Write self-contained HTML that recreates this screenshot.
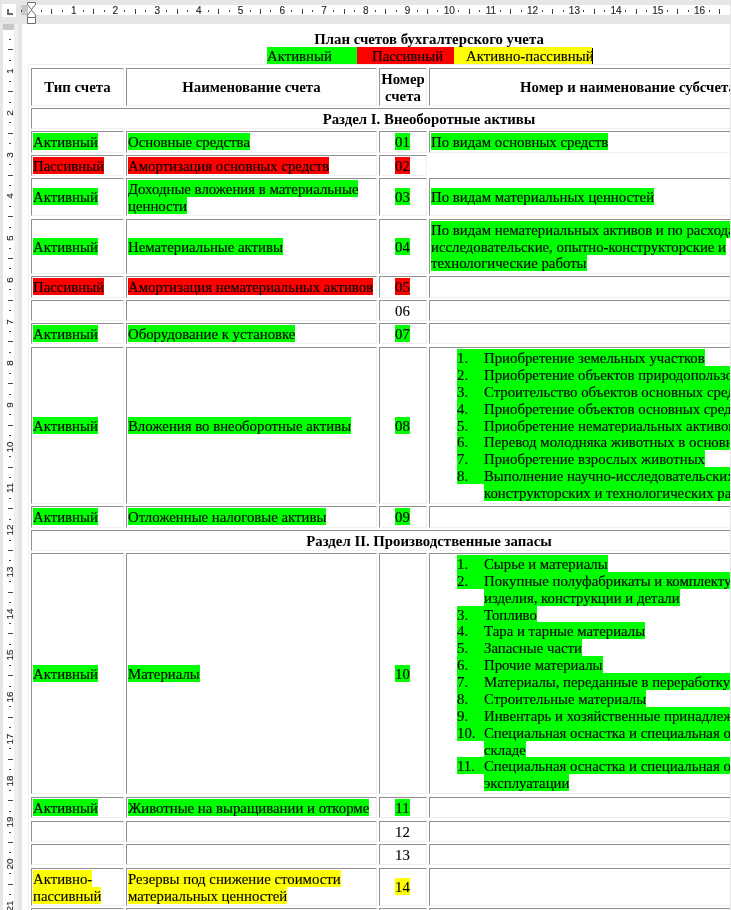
<!DOCTYPE html>
<html lang="ru"><head><meta charset="utf-8"><title>План счетов бухгалтерского учета</title>
<style>
html,body{margin:0;padding:0}
body{width:731px;height:910px;overflow:hidden;position:relative;background:#fff;font-family:"Liberation Serif",serif;font-size:14.8px;line-height:16.87px;color:#000;-webkit-text-stroke:0.12px #000}
.c{position:absolute;border:1px solid;border-color:#909090 #f0f0f0 #f0f0f0 #909090;display:flex;align-items:center;overflow:hidden;white-space:nowrap}
.t{width:100%;padding:0 1px;box-sizing:border-box;position:relative;top:0.55px}
.hd .t{text-align:center}
.ctr{text-align:center;padding-right:2.2px}
.h{padding:1px 0 0 0}
.li{padding-left:26px}
.li .n{display:inline-block;width:27px}
.li2{padding-left:53px}
#tb{position:absolute;left:28px;top:64px;width:800px;height:900px;border:1px solid #f0f0f0}
#title{position:absolute;left:129px;width:600px;top:31px;text-align:center;white-space:nowrap}
#legend{position:absolute;left:0;top:0;white-space:pre}
#legend span{position:absolute;top:47px;height:17px;line-height:19px;overflow:hidden}
#legend i{position:absolute;left:592px;top:48px;width:1px;height:16px;background:#000}
#hr{position:absolute;left:0;top:0;width:731px;height:24px;background:#e6e6e6}
#hrw{position:absolute;left:28px;top:5px;width:710px;height:10px;background:#fff}
#hrg{position:absolute;left:21px;top:5px;width:7px;height:10px;background:#c8c8c8}
#vr{position:absolute;left:0;top:24px;width:22px;height:890px;background:#e6e6e6}
#vrl{position:absolute;left:14px;top:0;width:4px;height:890px;background:#efefef}
#vrw{position:absolute;left:3px;top:6px;width:11px;height:890px;background:#fff}
#vrg{position:absolute;left:3px;top:0;width:11px;height:6px;background:#c8c8c8}
#corner{position:absolute;left:2px;top:4px;width:14px;height:13px;background:#fff}
.rn{position:absolute;top:5px;width:20px;text-align:center;font:10px/12px "Liberation Sans",sans-serif;color:#2a2a2a}
.tk{position:absolute;top:9px;width:1px;height:5px;background:#444}
.dt{position:absolute;top:10px;width:1px;height:2px;background:#444}
.vn{position:absolute;left:0px;width:20px;height:20px;text-align:center;font:9.8px/20px "Liberation Sans",sans-serif;color:#2a2a2a;transform:rotate(-90deg)}
.vtk{position:absolute;left:8px;height:1px;width:5px;background:#444}
.vdt{position:absolute;left:9px;height:1px;width:2px;background:#444}
#redge{position:absolute;left:730px;top:0;width:1px;height:910px;background:#e6e6e6}
b{-webkit-text-stroke:0}
.rn,.vn{-webkit-text-stroke:0.15px #2a2a2a}
</style></head><body>
<div id="title"><b>План счетов бухгалтерского учета</b></div>
<div id="legend"><span style="left:267px;width:90px;background:#00ff00">Активный</span><span style="left:357px;width:82px;padding-left:15px;background:#ff0000">Пассивный</span><span style="left:454px;width:126px;padding-left:12px;background:#ffff00">Активно-пассивный</span><i></i></div>
<div id="tb"></div>
<div class="c hd" style="left:31px;top:68px;width:91px;height:36px"><div class="t"><b>Тип счета</b></div></div>
<div class="c hd" style="left:126px;top:68px;width:249px;height:36px"><div class="t"><b>Наименование счета</b></div></div>
<div class="c hd" style="left:379px;top:68px;width:46px;height:36px"><div class="t"><b>Номер<br>счета</b></div></div>
<div class="c hd" style="left:429px;top:68px;width:396px;height:36px"><div class="t"><b>Номер и наименование субсчета</b></div></div>
<div class="c hd" style="left:31px;top:108px;width:794px;height:19px"><div class="t sc"><b>Раздел I. Внеоборотные активы</b></div></div>
<div class="c " style="left:31px;top:131px;width:91px;height:20px"><div class="t"><span class="h" style="background:#00ff00">Активный</span></div></div>
<div class="c " style="left:126px;top:131px;width:249px;height:20px"><div class="t"><span class="h" style="background:#00ff00">Основные средства</span></div></div>
<div class="c " style="left:379px;top:131px;width:46px;height:20px"><div class="t ctr"><span class="h" style="background:#00ff00">01</span></div></div>
<div class="c " style="left:429px;top:131px;width:396px;height:20px"><div class="t"><span class="h" style="background:#00ff00">По видам основных средств</span></div></div>
<div class="c " style="left:31px;top:155px;width:91px;height:19px"><div class="t"><span class="h" style="background:#ff0000">Пассивный</span></div></div>
<div class="c " style="left:126px;top:155px;width:249px;height:19px"><div class="t"><span class="h" style="background:#ff0000">Амортизация основных средств</span></div></div>
<div class="c " style="left:379px;top:155px;width:46px;height:19px"><div class="t ctr"><span class="h" style="background:#ff0000">02</span></div></div>
<div class="c " style="left:31px;top:178px;width:91px;height:36px"><div class="t"><span class="h" style="background:#00ff00">Активный</span></div></div>
<div class="c " style="left:126px;top:178px;width:249px;height:36px"><div class="t"><span class="h" style="background:#00ff00">Доходные вложения в материальные<br>ценности</span></div></div>
<div class="c " style="left:379px;top:178px;width:46px;height:36px"><div class="t ctr"><span class="h" style="background:#00ff00">03</span></div></div>
<div class="c " style="left:429px;top:178px;width:396px;height:36px"><div class="t"><span class="h" style="background:#00ff00">По видам материальных ценностей</span></div></div>
<div class="c " style="left:31px;top:219px;width:91px;height:53px"><div class="t"><span class="h" style="background:#00ff00">Активный</span></div></div>
<div class="c " style="left:126px;top:219px;width:249px;height:53px"><div class="t"><span class="h" style="background:#00ff00">Нематериальные активы</span></div></div>
<div class="c " style="left:379px;top:219px;width:46px;height:53px"><div class="t ctr"><span class="h" style="background:#00ff00">04</span></div></div>
<div class="c " style="left:429px;top:219px;width:396px;height:53px"><div class="t"><span class="h" style="background:#00ff00">По видам нематериальных активов и по расходам на научно-<br>исследовательские, опытно-конструкторские и<br>технологические работы</span></div></div>
<div class="c " style="left:31px;top:276px;width:91px;height:20px"><div class="t"><span class="h" style="background:#ff0000">Пассивный</span></div></div>
<div class="c " style="left:126px;top:276px;width:249px;height:20px"><div class="t"><span class="h" style="background:#ff0000">Амортизация нематериальных активов</span></div></div>
<div class="c " style="left:379px;top:276px;width:46px;height:20px"><div class="t ctr"><span class="h" style="background:#ff0000">05</span></div></div>
<div class="c " style="left:429px;top:276px;width:396px;height:20px"><div class="t"></div></div>
<div class="c " style="left:31px;top:300px;width:91px;height:19px"><div class="t"></div></div>
<div class="c " style="left:126px;top:300px;width:249px;height:19px"><div class="t"></div></div>
<div class="c " style="left:379px;top:300px;width:46px;height:19px"><div class="t ctr">06</div></div>
<div class="c " style="left:429px;top:300px;width:396px;height:19px"><div class="t"></div></div>
<div class="c " style="left:31px;top:323px;width:91px;height:19px"><div class="t"><span class="h" style="background:#00ff00">Активный</span></div></div>
<div class="c " style="left:126px;top:323px;width:249px;height:19px"><div class="t"><span class="h" style="background:#00ff00">Оборудование к установке</span></div></div>
<div class="c " style="left:379px;top:323px;width:46px;height:19px"><div class="t ctr"><span class="h" style="background:#00ff00">07</span></div></div>
<div class="c " style="left:429px;top:323px;width:396px;height:19px"><div class="t"></div></div>
<div class="c " style="left:31px;top:347px;width:91px;height:155px"><div class="t"><span class="h" style="background:#00ff00">Активный</span></div></div>
<div class="c " style="left:126px;top:347px;width:249px;height:155px"><div class="t"><span class="h" style="background:#00ff00">Вложения во внеоборотные активы</span></div></div>
<div class="c " style="left:379px;top:347px;width:46px;height:155px"><div class="t ctr"><span class="h" style="background:#00ff00">08</span></div></div>
<div class="c " style="left:429px;top:347px;width:396px;height:155px"><div class="t"><div class="li"><span class="h" style="background:#00ff00"><span class="n">1.</span>Приобретение земельных участков</span></div><div class="li"><span class="h" style="background:#00ff00"><span class="n">2.</span>Приобретение объектов природопользования</span></div><div class="li"><span class="h" style="background:#00ff00"><span class="n">3.</span>Строительство объектов основных средств</span></div><div class="li"><span class="h" style="background:#00ff00"><span class="n">4.</span>Приобретение объектов основных средств</span></div><div class="li"><span class="h" style="background:#00ff00"><span class="n">5.</span>Приобретение нематериальных активов</span></div><div class="li"><span class="h" style="background:#00ff00"><span class="n">6.</span>Перевод молодняка животных в основное стадо</span></div><div class="li"><span class="h" style="background:#00ff00"><span class="n">7.</span>Приобретение взрослых животных</span></div><div class="li"><span class="h" style="background:#00ff00"><span class="n">8.</span>Выполнение научно-исследовательских, опытно-</span></div><div class="li2"><span class="h" style="background:#00ff00">конструкторских и технологических работ</span></div></div></div>
<div class="c " style="left:31px;top:506px;width:91px;height:20px"><div class="t"><span class="h" style="background:#00ff00">Активный</span></div></div>
<div class="c " style="left:126px;top:506px;width:249px;height:20px"><div class="t"><span class="h" style="background:#00ff00">Отложенные налоговые активы</span></div></div>
<div class="c " style="left:379px;top:506px;width:46px;height:20px"><div class="t ctr"><span class="h" style="background:#00ff00">09</span></div></div>
<div class="c " style="left:429px;top:506px;width:396px;height:20px"><div class="t"></div></div>
<div class="c hd" style="left:31px;top:530px;width:794px;height:19px"><div class="t sc"><b>Раздел II. Производственные запасы</b></div></div>
<div class="c " style="left:31px;top:553px;width:91px;height:239px"><div class="t"><span class="h" style="background:#00ff00">Активный</span></div></div>
<div class="c " style="left:126px;top:553px;width:249px;height:239px"><div class="t"><span class="h" style="background:#00ff00">Материалы</span></div></div>
<div class="c " style="left:379px;top:553px;width:46px;height:239px"><div class="t ctr"><span class="h" style="background:#00ff00">10</span></div></div>
<div class="c " style="left:429px;top:553px;width:396px;height:239px"><div class="t"><div class="li"><span class="h" style="background:#00ff00"><span class="n">1.</span>Сырье и материалы</span></div><div class="li"><span class="h" style="background:#00ff00"><span class="n">2.</span>Покупные полуфабрикаты и комплектующие</span></div><div class="li2"><span class="h" style="background:#00ff00">изделия, конструкции и детали</span></div><div class="li"><span class="h" style="background:#00ff00"><span class="n">3.</span>Топливо</span></div><div class="li"><span class="h" style="background:#00ff00"><span class="n">4.</span>Тара и тарные материалы</span></div><div class="li"><span class="h" style="background:#00ff00"><span class="n">5.</span>Запасные части</span></div><div class="li"><span class="h" style="background:#00ff00"><span class="n">6.</span>Прочие материалы</span></div><div class="li"><span class="h" style="background:#00ff00"><span class="n">7.</span>Материалы, переданные в переработку на сторону</span></div><div class="li"><span class="h" style="background:#00ff00"><span class="n">8.</span>Строительные материалы</span></div><div class="li"><span class="h" style="background:#00ff00"><span class="n">9.</span>Инвентарь и хозяйственные принадлежности</span></div><div class="li"><span class="h" style="background:#00ff00"><span class="n">10.</span>Специальная оснастка и специальная одежда на</span></div><div class="li2"><span class="h" style="background:#00ff00">складе</span></div><div class="li"><span class="h" style="background:#00ff00"><span class="n">11.</span>Специальная оснастка и специальная одежда в</span></div><div class="li2"><span class="h" style="background:#00ff00">эксплуатации</span></div></div></div>
<div class="c " style="left:31px;top:797px;width:91px;height:19px"><div class="t"><span class="h" style="background:#00ff00">Активный</span></div></div>
<div class="c " style="left:126px;top:797px;width:249px;height:19px"><div class="t"><span class="h" style="background:#00ff00">Животные на выращивании и откорме</span></div></div>
<div class="c " style="left:379px;top:797px;width:46px;height:19px"><div class="t ctr"><span class="h" style="background:#00ff00">11</span></div></div>
<div class="c " style="left:429px;top:797px;width:396px;height:19px"><div class="t"></div></div>
<div class="c " style="left:31px;top:821px;width:91px;height:19px"><div class="t"></div></div>
<div class="c " style="left:126px;top:821px;width:249px;height:19px"><div class="t"></div></div>
<div class="c " style="left:379px;top:821px;width:46px;height:19px"><div class="t ctr">12</div></div>
<div class="c " style="left:429px;top:821px;width:396px;height:19px"><div class="t"></div></div>
<div class="c " style="left:31px;top:844px;width:91px;height:19px"><div class="t"></div></div>
<div class="c " style="left:126px;top:844px;width:249px;height:19px"><div class="t"></div></div>
<div class="c " style="left:379px;top:844px;width:46px;height:19px"><div class="t ctr">13</div></div>
<div class="c " style="left:429px;top:844px;width:396px;height:19px"><div class="t"></div></div>
<div class="c " style="left:31px;top:868px;width:91px;height:36px"><div class="t"><span class="h" style="background:#ffff00">Активно-<br>пассивный</span></div></div>
<div class="c " style="left:126px;top:868px;width:249px;height:36px"><div class="t"><span class="h" style="background:#ffff00">Резервы под снижение стоимости<br>материальных ценностей</span></div></div>
<div class="c " style="left:379px;top:868px;width:46px;height:36px"><div class="t ctr"><span class="h" style="background:#ffff00">14</span></div></div>
<div class="c " style="left:429px;top:868px;width:396px;height:36px"><div class="t"></div></div>
<div class="c " style="left:31px;top:908px;width:91px;height:31px"><div class="t"></div></div>
<div class="c " style="left:126px;top:908px;width:249px;height:31px"><div class="t"></div></div>
<div class="c " style="left:379px;top:908px;width:46px;height:31px"><div class="t ctr"></div></div>
<div class="c " style="left:429px;top:908px;width:396px;height:31px"><div class="t"></div></div>
<div id="hr"><div id="hrw"></div><div id="hrg"></div><i class="dt" style="left:21px"></i><i class="dt" style="left:41px"></i><i class="tk" style="left:51px"></i><i class="dt" style="left:62px"></i><span class="rn" style="left:63.7px">1</span><i class="dt" style="left:83px"></i><i class="tk" style="left:93px"></i><i class="dt" style="left:104px"></i><span class="rn" style="left:105.4px">2</span><i class="dt" style="left:124px"></i><i class="tk" style="left:135px"></i><i class="dt" style="left:145px"></i><span class="rn" style="left:147.2px">3</span><i class="dt" style="left:166px"></i><i class="tk" style="left:177px"></i><i class="dt" style="left:187px"></i><span class="rn" style="left:188.9px">4</span><i class="dt" style="left:208px"></i><i class="tk" style="left:218px"></i><i class="dt" style="left:229px"></i><span class="rn" style="left:230.6px">5</span><i class="dt" style="left:250px"></i><i class="tk" style="left:260px"></i><i class="dt" style="left:270px"></i><span class="rn" style="left:272.3px">6</span><i class="dt" style="left:291px"></i><i class="tk" style="left:302px"></i><i class="dt" style="left:312px"></i><span class="rn" style="left:314.0px">7</span><i class="dt" style="left:333px"></i><i class="tk" style="left:344px"></i><i class="dt" style="left:354px"></i><span class="rn" style="left:355.8px">8</span><i class="dt" style="left:375px"></i><i class="tk" style="left:385px"></i><i class="dt" style="left:396px"></i><span class="rn" style="left:397.5px">9</span><i class="dt" style="left:417px"></i><i class="tk" style="left:427px"></i><i class="dt" style="left:437px"></i><span class="rn" style="left:439.2px">10</span><i class="dt" style="left:458px"></i><i class="tk" style="left:469px"></i><i class="dt" style="left:479px"></i><span class="rn" style="left:480.9px">11</span><i class="dt" style="left:500px"></i><i class="tk" style="left:510px"></i><i class="dt" style="left:521px"></i><span class="rn" style="left:522.6px">12</span><i class="dt" style="left:542px"></i><i class="tk" style="left:552px"></i><i class="dt" style="left:563px"></i><span class="rn" style="left:564.4px">13</span><i class="dt" style="left:583px"></i><i class="tk" style="left:594px"></i><i class="dt" style="left:604px"></i><span class="rn" style="left:606.1px">14</span><i class="dt" style="left:625px"></i><i class="tk" style="left:636px"></i><i class="dt" style="left:646px"></i><span class="rn" style="left:647.8px">15</span><i class="dt" style="left:667px"></i><i class="tk" style="left:677px"></i><i class="dt" style="left:688px"></i><span class="rn" style="left:689.5px">16</span><i class="dt" style="left:709px"></i><i class="tk" style="left:719px"></i>
<svg style="position:absolute;left:26px;top:0" width="12" height="24" viewBox="0 0 12 24"><g fill="#fff" stroke="#6e6e6e" stroke-width="1"><path d="M1.5 2.5H9.5V4.5L5.5 9.5L1.5 4.5Z"/><path d="M5.5 10L9.5 15V17.5H1.5V15Z"/><path d="M1.5 17.5H9.5V23.5H1.5Z"/></g></svg>
</div>
<div id="vr"><div id="vrl"></div><div id="vrw"></div><div id="vrg"></div><i class="vdt" style="top:15px"></i><i class="vtk" style="top:25px"></i><i class="vdt" style="top:36px"></i><span class="vn" style="top:37.2px">1</span><i class="vdt" style="top:57px"></i><i class="vtk" style="top:67px"></i><i class="vdt" style="top:78px"></i><span class="vn" style="top:78.9px">2</span><i class="vdt" style="top:98px"></i><i class="vtk" style="top:109px"></i><i class="vdt" style="top:119px"></i><span class="vn" style="top:120.7px">3</span><i class="vdt" style="top:140px"></i><i class="vtk" style="top:151px"></i><i class="vdt" style="top:161px"></i><span class="vn" style="top:162.4px">4</span><i class="vdt" style="top:182px"></i><i class="vtk" style="top:192px"></i><i class="vdt" style="top:203px"></i><span class="vn" style="top:204.1px">5</span><i class="vdt" style="top:224px"></i><i class="vtk" style="top:234px"></i><i class="vdt" style="top:244px"></i><span class="vn" style="top:245.8px">6</span><i class="vdt" style="top:265px"></i><i class="vtk" style="top:276px"></i><i class="vdt" style="top:286px"></i><span class="vn" style="top:287.5px">7</span><i class="vdt" style="top:307px"></i><i class="vtk" style="top:317px"></i><i class="vdt" style="top:328px"></i><span class="vn" style="top:329.3px">8</span><i class="vdt" style="top:349px"></i><i class="vtk" style="top:359px"></i><i class="vdt" style="top:370px"></i><span class="vn" style="top:371.0px">9</span><i class="vdt" style="top:390px"></i><i class="vtk" style="top:401px"></i><i class="vdt" style="top:411px"></i><span class="vn" style="top:412.7px">10</span><i class="vdt" style="top:432px"></i><i class="vtk" style="top:443px"></i><i class="vdt" style="top:453px"></i><span class="vn" style="top:454.4px">11</span><i class="vdt" style="top:474px"></i><i class="vtk" style="top:484px"></i><i class="vdt" style="top:495px"></i><span class="vn" style="top:496.1px">12</span><i class="vdt" style="top:516px"></i><i class="vtk" style="top:526px"></i><i class="vdt" style="top:536px"></i><span class="vn" style="top:537.9px">13</span><i class="vdt" style="top:557px"></i><i class="vtk" style="top:568px"></i><i class="vdt" style="top:578px"></i><span class="vn" style="top:579.6px">14</span><i class="vdt" style="top:599px"></i><i class="vtk" style="top:609px"></i><i class="vdt" style="top:620px"></i><span class="vn" style="top:621.3px">15</span><i class="vdt" style="top:641px"></i><i class="vtk" style="top:651px"></i><i class="vdt" style="top:662px"></i><span class="vn" style="top:663.0px">16</span><i class="vdt" style="top:682px"></i><i class="vtk" style="top:693px"></i><i class="vdt" style="top:703px"></i><span class="vn" style="top:704.7px">17</span><i class="vdt" style="top:724px"></i><i class="vtk" style="top:735px"></i><i class="vdt" style="top:745px"></i><span class="vn" style="top:746.5px">18</span><i class="vdt" style="top:766px"></i><i class="vtk" style="top:776px"></i><i class="vdt" style="top:787px"></i><span class="vn" style="top:788.2px">19</span><i class="vdt" style="top:808px"></i><i class="vtk" style="top:818px"></i><i class="vdt" style="top:828px"></i><span class="vn" style="top:829.9px">20</span><i class="vdt" style="top:849px"></i><i class="vtk" style="top:860px"></i><i class="vdt" style="top:870px"></i><span class="vn" style="top:871.6px">21</span><i class="vdt" style="top:891px"></i><i class="vtk" style="top:901px"></i><i class="vdt" style="top:912px"></i><span class="vn" style="top:913.3px">22</span><i class="vdt" style="top:933px"></i></div>
<div id="corner"></div><div id="redge"></div>
<svg style="position:absolute;left:0;top:0" width="20" height="20" viewBox="0 0 20 20"><path d="M7 9h2v4h4v2h-6z" fill="#6a6a6a"/></svg>
</body></html>
